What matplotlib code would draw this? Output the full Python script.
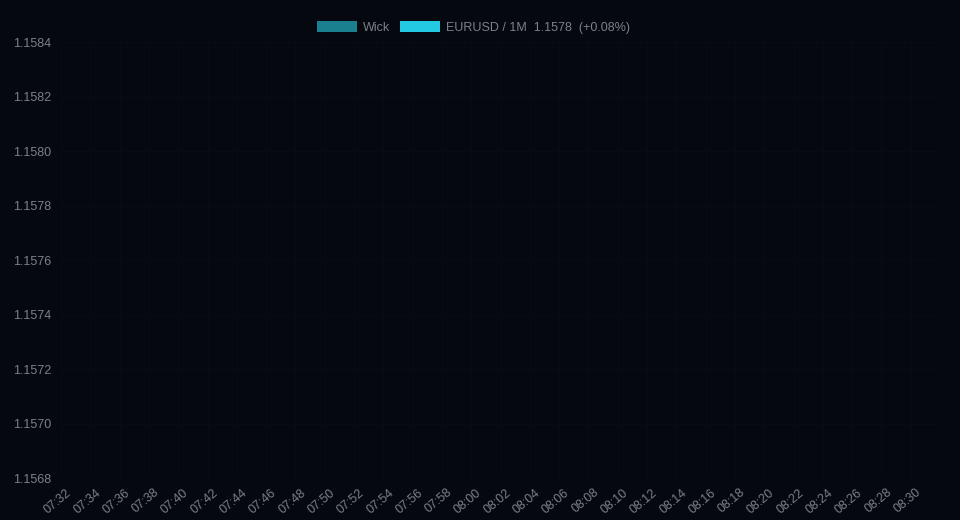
import numpy as np
import matplotlib
matplotlib.use('Agg')
import matplotlib.pyplot as plt
from matplotlib.patches import Patch

plt.rcParams['font.family'] = ['Liberation Sans', 'DejaVu Sans']

# one-minute categories 07:32 .. 08:31
times = ['07:%02d' % m for m in range(32, 60)] + ['08:%02d' % m for m in range(0, 32)]
y_ticks = [1.1568, 1.1570, 1.1572, 1.1574, 1.1576, 1.1578, 1.1580, 1.1582, 1.1584]
symbol = 'EURUSD / 1M'
last_price = 1.1578
change_pct = 0.08

bg = '#05080f'
grid_col = '#080c12'
text_col = '#7b8089'

fig = plt.figure(figsize=(9.6, 5.2), dpi=100, facecolor=bg)
ax = fig.add_axes([61/960, 42/520, 879/960, 436/520], facecolor=bg)

n = len(times)
ax.set_xlim(-0.5, n - 0.5)
ax.set_ylim(y_ticks[0], y_ticks[-1])

# labels every 2 minutes, grid on band boundaries
lab_idx = np.arange(0, n, 2)
ax.set_xticks(lab_idx + 0.1)
ax.set_xticklabels([times[i] for i in lab_idx], rotation=40, ha='right',
                   va='center', rotation_mode='anchor')
ax.set_xticks(lab_idx - 0.5, minor=True)
ax.set_yticks(y_ticks)
ax.set_yticklabels(['%.4f' % v for v in y_ticks])

ax.grid(False)
ax.grid(True, which='minor', axis='x', color=grid_col, lw=1)
ax.grid(True, which='major', axis='y', color=grid_col, lw=1)
ax.tick_params(which='both', length=0, colors=text_col, labelsize=9)
ax.tick_params(axis='x', pad=9.5)
ax.tick_params(axis='y', pad=7)
for s in ax.spines.values():
    s.set_visible(False)

handles = [Patch(facecolor='#1a7f8f', edgecolor='none'),
           Patch(facecolor='#22c9e0', edgecolor='none')]
labels = ['Wick', '%s  %.4f  (+%.2f%%)' % (symbol, last_price, change_pct)]
leg = fig.legend(handles, labels, loc='center', bbox_to_anchor=(473.5/960, 1 - 27.5/520),
                 ncol=2, frameon=False, fontsize=9, handlelength=3.2, handleheight=1.0,
                 handletextpad=0.45, columnspacing=0.85, borderpad=0)
for t in leg.get_texts():
    t.set_color(text_col)

fig.savefig('out.png', dpi=100, facecolor=bg)
